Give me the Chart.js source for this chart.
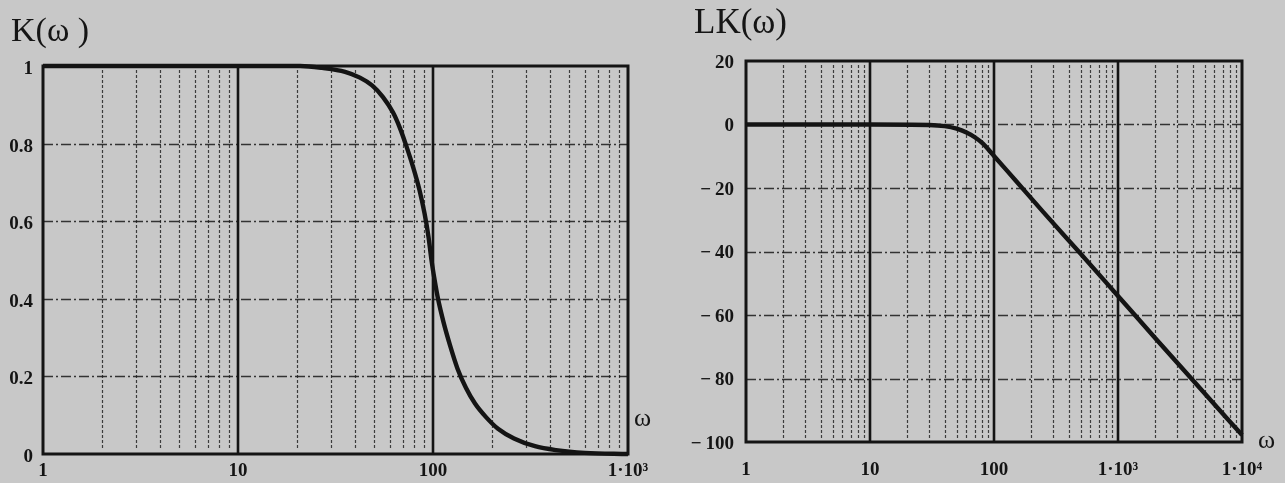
<!DOCTYPE html>
<html><head><meta charset="utf-8">
<script src="https://cdn.jsdelivr.net/npm/chart.js@4.4.1/dist/chart.umd.min.js"></script>
<style>
html,body{margin:0;padding:0;background:#c8c8c8;width:1285px;height:483px;overflow:hidden;}
#w{position:relative;width:1285px;height:483px;}
.c{position:absolute;top:0;height:483px;}
.t{position:absolute;font-family:"Liberation Serif","DejaVu Serif",serif;color:#151515;line-height:1;white-space:pre;}
</style></head><body>
<div id="w">
<div class="c" style="left:0;width:660px"><canvas id="c1"></canvas></div>
<div class="c" style="left:670px;width:615px"><canvas id="c2"></canvas></div>
<div class="t" style="left:11px;top:13px;font-size:34px">K(ω )</div>
<div class="t" style="left:694px;top:4px;font-size:35px">LK(ω)</div>
<div class="t" style="left:634px;top:405px;font-size:26px">ω</div>
<div class="t" style="left:1258px;top:427px;font-size:26px">ω</div>
</div>
<script>
// ---- data ----
const kOmega  = [1, 10, 20.8, 27, 35.4, 42.2, 48.7, 55.4, 62.4, 67.7, 72.3, 79, 85.3, 90.5, 94.8, 98.2, 101.8, 106.1, 113.2, 122.3, 133.6, 147.7, 164.2, 187, 215.4, 260.3, 333.5, 427.4, 601.9, 1000];
const kValues = [1, 1, 1, 0.995, 0.985, 0.97, 0.95, 0.92, 0.88, 0.84, 0.80, 0.74, 0.68, 0.62, 0.56, 0.50, 0.45, 0.40, 0.34, 0.28, 0.22, 0.17, 0.13, 0.095, 0.065, 0.04, 0.02, 0.01, 0.003, 0.0];

const lkOmega  = [1, 10, 30, 40, 50, 60, 70, 81.5, 88, 100, 150, 250, 500, 1000, 2000, 4000, 8000, 10000];
const lkValues = [0, 0, -0.15, -0.5, -1.3, -2.5, -4.0, -6.0, -7.4, -9.9, -17.7, -27.6, -40.7, -54.0, -67.3, -80.5, -93.6, -97.8];

// ---- axis ticks and labels ----
const kDecades = [1, 10, 100, 1000];
const kDecadeLabels = ['1', '10', '100', '1\u00B710\u00B3'];
const kYTicks = [0, 0.2, 0.4, 0.6, 0.8, 1];
const kYLabels = ['0', '0.2', '0.4', '0.6', '0.8', '1'];

const lkDecades = [1, 10, 100, 1000, 10000];
const lkDecadeLabels = ['1', '10', '100', '1\u00B710\u00B3', '1\u00B710\u2074'];
const lkYTicks = [-100, -80, -60, -40, -20, 0, 20];
const lkYLabels = ['\u2212\u2009100', '\u2212\u200980', '\u2212\u200960', '\u2212\u200940', '\u2212\u200920', '0', '20'];

const minorSteps = [1, 2, 3, 4, 5, 6, 7, 8, 9];

function logTicks(decades) {
  const out = [];
  for (let i = 0; i < decades.length - 1; i++) {
    minorSteps.forEach(s => out.push(decades[i] * s));
  }
  out.push(decades[decades.length - 1]);
  return out;
}

const tickFont = {family: '"Liberation Serif", "DejaVu Serif", serif', size: 19, weight: 'bold'};
const ink = '#141414';

const paperGrid = {
  id: 'paperGrid',
  beforeDatasetsDraw(chart, args, opts) {
    const {ctx, chartArea: a, scales: {x, y}} = chart;
    const decades = opts.decades;
    ctx.save();
    const line = (x1, y1, x2, y2) => { ctx.beginPath(); ctx.moveTo(x1, y1); ctx.lineTo(x2, y2); ctx.stroke(); };
    // horizontal dash-dot grid lines
    ctx.strokeStyle = 'rgba(25,25,25,0.85)';
    ctx.lineWidth = 1.3;
    ctx.setLineDash([10, 3, 2, 3]);
    y.ticks.forEach(t => {
      const py = Math.round(y.getPixelForValue(t.value)) + 0.5;
      if (py <= a.top + 3 || py >= a.bottom - 3) return;
      line(a.left, py, a.right, py);
    });
    // minor vertical dotted lines
    ctx.setLineDash([3, 2]);
    ctx.lineWidth = 1.2;
    ctx.strokeStyle = 'rgba(25,25,25,0.8)';
    x.ticks.forEach(t => {
      if (decades.includes(t.value)) return;
      const px = Math.round(x.getPixelForValue(t.value)) + 0.5;
      line(px, a.top + 4, px, a.bottom - 4);
    });
    // decade lines
    ctx.setLineDash([]);
    ctx.lineWidth = 2.6;
    ctx.strokeStyle = ink;
    decades.forEach(v => {
      const px = x.getPixelForValue(v);
      if (px <= a.left + 2 || px >= a.right - 2) return;
      line(px, a.top, px, a.bottom);
    });
    // frame
    ctx.lineWidth = 3;
    ctx.strokeRect(a.left, a.top, a.right - a.left, a.bottom - a.top);
    ctx.restore();
  }
};

function makeChart(id, cfg) {
  return new Chart(document.getElementById(id), {
    type: 'line',
    data: {
      datasets: [{
        data: cfg.xs.map((w, i) => ({x: w, y: cfg.ys[i]})),
        borderColor: ink,
        borderWidth: 4.4,
        pointRadius: 0,
        cubicInterpolationMode: 'monotone',
        fill: false,
        clip: 6
      }]
    },
    options: {
      responsive: true,
      maintainAspectRatio: false,
      animation: false,
      events: [],
      layout: {padding: cfg.padding},
      plugins: {legend: {display: false}, tooltip: {enabled: false}, paperGrid: {decades: cfg.decades}},
      scales: {
        x: {
          type: 'logarithmic',
          min: cfg.decades[0],
          max: cfg.decades[cfg.decades.length - 1],
          grid: {display: false, drawTicks: false},
          border: {display: false},
          afterBuildTicks: s => { s.ticks = logTicks(cfg.decades).map(v => ({value: v})); },
          afterFit: s => { s.height = cfg.xHeight; },
          ticks: {
            autoSkip: false, maxRotation: 0, minRotation: 0,
            padding: cfg.xPad,
            color: ink, font: tickFont,
            callback: v => { const i = cfg.decades.indexOf(v); return i >= 0 ? cfg.decadeLabels[i] : ''; }
          }
        },
        y: {
          type: 'linear',
          min: cfg.yTicks[0],
          max: cfg.yTicks[cfg.yTicks.length - 1],
          grid: {display: false, drawTicks: false},
          border: {display: false},
          afterBuildTicks: s => { s.ticks = cfg.yTicks.map(v => ({value: v})); },
          afterFit: s => { s.width = cfg.yWidth; },
          ticks: {
            autoSkip: false,
            padding: cfg.yPad,
            labelOffset: cfg.yOff,
            color: ink, font: tickFont,
            callback: v => { const i = cfg.yTicks.indexOf(v); return i >= 0 ? cfg.yLabels[i] : ''; }
          }
        }
      }
    },
    plugins: [paperGrid]
  });
}

makeChart('c1', {
  xs: kOmega, ys: kValues, decades: kDecades, decadeLabels: kDecadeLabels,
  yTicks: kYTicks, yLabels: kYLabels,
  padding: {top: 66, right: 32, left: 0, bottom: 0},
  xHeight: 29, yWidth: 43, xPad: 6, yPad: 10, yOff: 3
});
makeChart('c2', {
  xs: lkOmega, ys: lkValues, decades: lkDecades, decadeLabels: lkDecadeLabels,
  yTicks: lkYTicks, yLabels: lkYLabels,
  padding: {top: 61, right: 43, left: 0, bottom: 0},
  xHeight: 41, yWidth: 76, xPad: 17, yPad: 12, yOff: 2
});
</script>
</body></html>
